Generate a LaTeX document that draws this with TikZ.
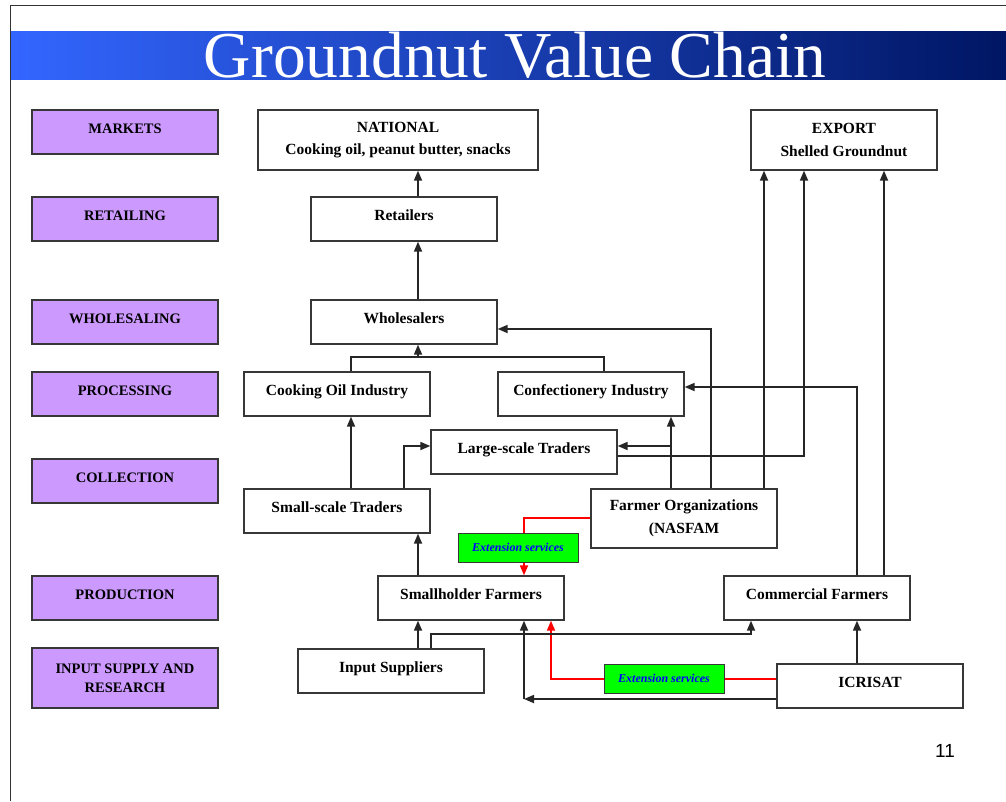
\documentclass[tikz,border=0pt]{standalone}
\usepackage{fontspec}
\usepackage{tikz}
\usetikzlibrary{arrows.meta}
\setmainfont{Liberation Serif}
\newfontfamily\pagefont{Liberation Sans}
\definecolor{stagefill}{RGB}{204,153,255}
\definecolor{extgreen}{RGB}{0,255,0}
\definecolor{titleblue}{RGB}{51,102,255}
\definecolor{titlenavy}{RGB}{0,22,100}
\definecolor{boxline}{RGB}{55,55,55}

\begin{document}
\begin{tikzpicture}[x=1pt,y=-1pt,
    boxbase/.style={draw=boxline,line width=1.3pt,fill=white,minimum width=186pt,minimum height=44pt,
      inner sep=0pt,align=center,font=\fontsize{15.5}{22.5}\selectfont\bfseries},
    actor/.style={boxbase,text height=11pt,text depth=9pt},
    actortwo/.style={boxbase,minimum height=59pt},
    stage/.style={actor,fill=stagefill,font=\fontsize{14.5}{19}\selectfont\bfseries},
    stagetwo/.style={boxbase,fill=stagefill,minimum height=60pt,font=\fontsize{14.5}{19}\selectfont\bfseries},
    extbox/.style={draw=boxline,line width=1pt,fill=extgreen,minimum width=120pt,minimum height=29pt,
      inner sep=0pt,text=blue,font=\fontsize{12}{14}\selectfont\bfseries\itshape},
    link/.style={line width=1.7pt,black!85},
    arr/.style={link,-{Triangle[length=10pt,width=8pt]}},
    redlink/.style={line width=1.7pt,red},
    redarr/.style={redlink,-{Triangle[length=10pt,width=8pt]}}]
  % page, frame & title bar
  \useasboundingbox (0,0) rectangle (1006,801);
  \fill[white] (0,0) rectangle (1006,801);
  \draw[black!80,line width=1pt] (10,801) -- (10,5) -- (1006,5);
  \shade[left color=titleblue,right color=titlenavy] (11,31) rectangle (1006,79);
  \node[text=white,font=\fontsize{65.5}{66}\selectfont] (title) at (515,55) {Groundnut Value Chain};
  \node[font=\pagefont\fontsize{19}{20}\selectfont] (pgno) at (945,751) {11};

  % stages (left column)
  \node[stage] (lmarkets) at (125,132) {MARKETS};
  \node[stage] (lretail) at (125,219) {RETAILING};
  \node[stage] (lwhole) at (125,322) {WHOLESALING};
  \node[stage] (lproc) at (125,394) {PROCESSING};
  \node[stage] (lcollect) at (125,481) {COLLECTION};
  \node[stage] (lprod) at (125,598) {PRODUCTION};
  \node[stagetwo] (linput) at (125,678) {INPUT SUPPLY AND\\RESEARCH};

  % actors
  \node[actortwo,minimum width=280pt,minimum height=60pt] (national) at (398,140) {NATIONAL\\Cooking oil, peanut butter, snacks};
  \node[actortwo,minimum height=60pt] (export) at (844,140) {EXPORT\\Shelled Groundnut};
  \node[actor] (retail) at (404,219) {Retailers};
  \node[actor] (whole) at (404,322) {Wholesalers};
  \node[actor] (oil) at (337,394) {Cooking Oil Industry};
  \node[actor] (conf) at (591,394) {Confectionery Industry};
  \node[actor] (large) at (524,452) {Large-scale Traders};
  \node[actor] (small) at (337,511) {Small-scale Traders};
  \node[actortwo] (farmorg) at (684,518.5) {Farmer Organizations\\(NASFAM};
  \node[actor] (smallh) at (471,598) {Smallholder Farmers};
  \node[actor] (commf) at (817,598) {Commercial Farmers};
  \node[actor] (inputs) at (391,671) {Input Suppliers};
  \node[actor] (icrisat) at (870,686) {ICRISAT};

  % lanes for the connectors
  \foreach \x in {351,404,418,431,524,551,604,671,711,751,764,804,857,884}
    \coordinate (v\x) at (\x,0);
  \foreach \y in {329,357,387,446,456,518,547,634,679,699}
    \coordinate (h\y) at (0,\y);

  % red extension links (drawn below the green boxes)
  \draw[redlink] (farmorg.west |- h518) -| (v524 |- h547);
  \draw[redlink] (icrisat.west |- h679) -- (v604 |- h679);
  \node[extbox] (ext1) at (518,547.5) {Extension services};
  \node[extbox] (ext2) at (664,678.5) {Extension services};
  \draw[redarr] (ext1.south -| v524) -- (smallh.north -| v524);
  \draw[redarr] (ext2.west |- h679) -| (smallh.south -| v551);

  % upward flows
  \draw[arr] (retail.north -| v418) -- (national.south -| v418);
  \draw[arr] (whole.north -| v418) -- (retail.south -| v418);
  \draw[link] (oil.north -| v351) |- (h357 -| v604) -- (conf.north -| v604);
  \draw[arr] (h357 -| v418) -- (whole.south -| v418);
  \draw[arr] (small.north -| v351) -- (oil.south -| v351);
  \draw[arr] (small.north -| v404) |- (large.west |- h446);
  \draw[arr] (farmorg.north -| v671) -- (conf.south -| v671);
  \draw[arr] (h446 -| v671) -- (large.east |- h446);
  \draw[arr] (large.east |- h456) -| (export.south -| v804);
  \draw[arr] (farmorg.north -| v711) |- (whole.east |- h329);
  \draw[arr] (farmorg.north -| v764) -- (export.south -| v764);
  \draw[arr] (commf.north -| v857) |- (conf.east |- h387);
  \draw[arr] (commf.north -| v884) -- (export.south -| v884);
  \draw[arr] (smallh.north -| v418) -- (small.south -| v418);
  \draw[arr] (inputs.north -| v418) -- (smallh.south -| v418);
  \draw[arr] (inputs.north -| v431) |- (h634 -| v751) -- (commf.south -| v751);
  \draw[arr] (icrisat.north -| v857) -- (commf.south -| v857);
  \draw[arr] (icrisat.west |- h699) -- (h699 -| v524);
  \draw[arr] (h699 -| v524) -- (smallh.south -| v524);
\end{tikzpicture}
\end{document}
